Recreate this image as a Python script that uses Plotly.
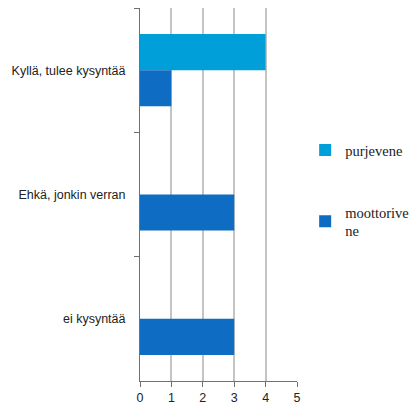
import plotly.graph_objects as go

categories = ["Kyllä, tulee kysyntää", "Ehkä, jonkin verran", "ei kysyntää"]
purjevene = [4, None, None]
moottorivene = [1, 3, 3]
x_ticks = [0, 1, 2, 3, 4, 5]

fig = go.Figure()
fig.add_trace(go.Bar(y=categories, x=purjevene, orientation="h", name="purjevene",
                     marker=dict(color="#009FDA", line=dict(width=0)), legendgroup="a"))
fig.add_trace(go.Bar(y=categories, x=moottorivene, orientation="h", name="moottorive<br>ne",
                     marker=dict(color="#0E6CC2", line=dict(width=0)), legendgroup="b"))

fig.update_layout(
    width=411, height=406,
    margin=dict(l=140, r=114, t=8, b=25, autoexpand=False),
    paper_bgcolor="white", plot_bgcolor="white",
    barmode="group", bargap=0.42, bargroupgap=0,
    font=dict(family="Liberation Sans, Arial, sans-serif", size=12.5, color="#222222"),
    showlegend=True,
    legend=dict(x=1.052, y=0.662, xanchor="left", yanchor="top",
                font=dict(family="Liberation Serif, Times New Roman, serif", size=14.5, color="#222222"),
                tracegroupgap=40, traceorder="grouped", itemwidth=30,
                bgcolor="rgba(0,0,0,0)"),
    xaxis=dict(range=[0, 5], tickvals=x_ticks, showgrid=True, gridcolor="#C4C4C4", gridwidth=1.5,
               showline=True, linecolor="#707070", linewidth=1, ticks="outside", ticklen=5,
               tickcolor="#707070", zeroline=False, fixedrange=True,
               tickfont=dict(size=12.5, color="#222222")),
    yaxis=dict(autorange="reversed", type="category", showgrid=False, showline=True,
               linecolor="#707070", linewidth=1, ticks="outside", ticklen=5, tickcolor="#707070",
               tickson="boundaries", ticklabelstandoff=11,
               tickfont=dict(size=12.5, color="#222222")),
)

fig.write_html("out.html")
